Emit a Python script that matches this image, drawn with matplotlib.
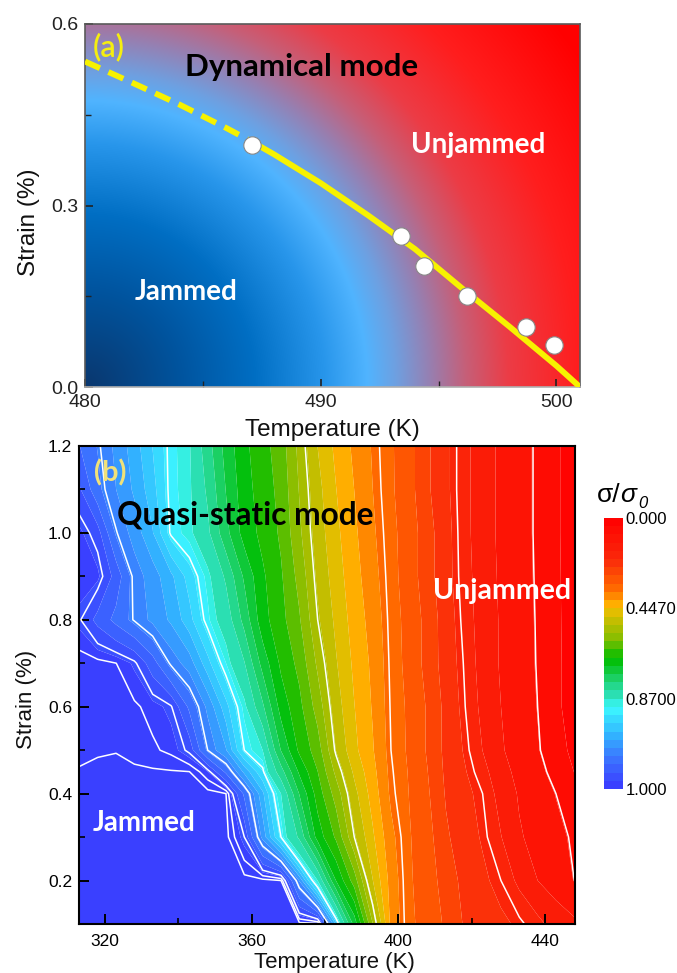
import numpy as np
import matplotlib
matplotlib.use("Agg")
import matplotlib.pyplot as plt
from matplotlib.colors import LinearSegmentedColormap, ListedColormap, BoundaryNorm

# ---------------- Panel (a) data ----------------
temp_points_a = [487.1, 493.4, 494.4, 496.2, 498.7, 499.9]
strain_points_a = [0.40, 0.25, 0.20, 0.15, 0.10, 0.07]
fit_solid_T = [487.1, 488.0, 490.0, 492.0, 494.0, 496.0, 498.0, 500.0, 501.0]
fit_solid_S = [0.405, 0.385, 0.337, 0.284, 0.228, 0.163, 0.100, 0.035, 0.0]
fit_dash_T = [480.0, 482.0, 484.0, 486.0, 487.1]
fit_dash_S = [0.538, 0.503, 0.467, 0.428, 0.405]

# ---------------- Panel (b) data ----------------
temps_b = [313, 318, 323, 328, 333, 338, 343, 348, 353, 358, 363, 368, 373, 378,
           383, 388, 393, 398, 403, 408, 413, 418, 423, 428, 433, 438, 443, 448]
strains_b = [0.1, 0.2, 0.3, 0.4, 0.45, 0.5, 0.6, 0.7, 0.8, 0.9, 1.0, 1.1, 1.2]
sigma_s010 = [1, 1, 1, 1, 1, 1, 1, 1, 1, 1, 1, 1, 1, 1,
              .915, .74, .564, .396, .333, .309, .278, .24, .226, .211, .197, .173, .147, .13]
sigma_s020 = [1, 1, 1, 1, 1, 1, 1, 1, 1, 1, 1, .998, .94, .87,
              .716, .62, .487, .39, .33, .305, .266, .232, .211, .19, .153, .122, .101, .08]
sigma_s030 = [1, 1, 1, 1, 1, 1, 1, 1, 1, .985, .937, .89, .825, .70,
              .633, .53, .454, .377, .328, .30, .25, .222, .199, .164, .126, .109, .091, .075]
sigma_s040 = [1, 1, 1, 1, 1, 1, 1, 1, .998, .962, .92, .87, .753, .66,
              .584, .498, .43, .358, .324, .29, .24, .215, .19, .147, .118, .099, .08, .05]
sigma_s045 = [.9985, .999, .9992, .999, .9988, .9985, .9982, .989, .962, .926, .895, .81, .71, .64,
              .553, .478, .42, .354, .322, .285, .236, .207, .176, .136, .111, .091, .069, .04]
sigma_s050 = [.9965, .9975, .9978, .9962, .994, .9915, .983, .95, .93, .89, .87, .753, .67, .62,
              .523, .457, .41, .35, .319, .28, .233, .20, .162, .126, .105, .084, .058, .03]
sigma_s060 = [.9965, .996, .9955, .994, .991, .986, .962, .938, .91, .878, .80, .70, .65, .584,
              .504, .448, .403, .347, .318, .28, .232, .192, .153, .122, .101, .08, .05, .02]
sigma_s070 = [.996, .995, .9931, .987, .97, .948, .935, .91, .882, .834, .74, .67, .628, .555,
              .489, .439, .398, .344, .313, .27, .225, .188, .147, .118, .098, .078, .05, .02]
sigma_s080 = [.986, .973, .961, .949, .938, .927, .91, .885, .855, .78, .692, .652, .605, .53,
              .477, .43, .39, .341, .312, .27, .223, .182, .145, .118, .098, .077, .049, .02]
sigma_s090 = [.992, .99, .972, .947, .935, .92, .90, .878, .825, .748, .684, .644, .588, .516,
              .466, .422, .38, .338, .306, .26, .217, .178, .142, .116, .096, .076, .048, .02]
sigma_s100 = [.99, .981, .951, .936, .918, .888, .877, .84, .767, .70, .667, .633, .57, .505,
              .457, .414, .372, .335, .306, .26, .216, .176, .138, .115, .095, .075, .047, .02]
sigma_s110 = [.978, .956, .941, .927, .91, .886, .875, .825, .753, .693, .66, .627, .56, .498,
              .448, .406, .366, .331, .30, .25, .211, .175, .138, .115, .095, .075, .047, .02]
sigma_s120 = [.965, .952, .938, .923, .905, .886, .873, .81, .74, .687, .653, .62, .551, .485,
              .438, .398, .362, .33, .30, .25, .211, .175, .138, .115, .095, .075, .047, .02]
sigma_rows = [sigma_s010, sigma_s020, sigma_s030, sigma_s040, sigma_s045, sigma_s050,
              sigma_s060, sigma_s070, sigma_s080, sigma_s090, sigma_s100, sigma_s110,
              sigma_s120]
white_line_levels = [0.08, 0.19, 0.35, 0.53, 0.89, 0.95, 0.985, 0.993, 0.998]
cbar_ticks = [0.0, 0.447, 0.87, 1.0]
cbar_ticklabels = ["0.000", "0.4470", "0.8700", "1.000"]

# ---------------- figure ----------------
plt.rcParams['font.family'] = ['Liberation Sans', 'DejaVu Sans']
fig = plt.figure(figsize=(6.77, 9.73), dpi=100)

# ===== Panel (a) =====
axA = fig.add_axes([85/677, 1-387/973, 495/677, 363/973])
xlimA = (480, 501.0)
ylimA = (0.0, 0.6)
nx, ny = 400, 300
xf = np.linspace(0, 1, nx)
yf = np.linspace(0, 1, ny)
XF, YF = np.meshgrid(xf, yf)
R = np.sqrt((XF/0.571)**2 + (YF/0.79)**2)
r_anchor = [0, 0.35, 0.6, 0.85, 1.0, 1.1, 1.22, 1.35, 1.5, 1.75, 2.1]
c_anchor = np.array([(10, 55, 110), (0, 85, 160), (0, 110, 195), (40, 150, 235),
                     (80, 180, 255), (110, 160, 225), (150, 128, 178), (198, 95, 120),
                     (236, 60, 70), (255, 30, 30), (255, 0, 0)]) / 255.0
img = np.dstack([np.interp(R, r_anchor, c_anchor[:, k]) for k in range(3)])
axA.imshow(img, extent=[xlimA[0], xlimA[1], ylimA[0], ylimA[1]], origin='lower',
           aspect='auto', zorder=0, interpolation='bilinear')
yellow = '#F7F200'
axA.plot(fit_dash_T, fit_dash_S, color=yellow, lw=4.2, ls=(0, (2.8, 1.6)), zorder=3,
         solid_capstyle='butt', dash_capstyle='butt')
axA.plot(fit_solid_T, fit_solid_S, color=yellow, lw=4.2, zorder=3, solid_capstyle='butt')
axA.plot(temp_points_a, strain_points_a, 'o', ms=12.5, mfc='white', mec='#888888',
         mew=0.8, zorder=4)
axA.set_xlim(*xlimA)
axA.set_ylim(*ylimA)
axA.set_xticks([480, 490, 500])
axA.set_xticks([485, 495], minor=True)
axA.set_yticks([0.0, 0.3, 0.6])
axA.set_yticks([0.15, 0.45], minor=True)
axA.set_yticklabels(['0.0', '0.3', '0.6'])
axA.tick_params(which='both', direction='in', labelsize=14, colors='#222222', pad=5)
axA.tick_params(which='major', length=6, width=1.2)
axA.tick_params(which='minor', length=4, width=1.0)
for sp in axA.spines.values():
    sp.set_color('#5a5a5a')
    sp.set_linewidth(1.2)
axA.spines['bottom'].set_color('#b0b0b0')
axA.text(0.5, -0.118, 'Temperature (K)', transform=axA.transAxes, ha='center', va='center',
         fontsize=17.5, color='#111111')
axA.text(-0.113, 0.455, 'Strain (%)', transform=axA.transAxes, ha='center', va='center',
         rotation=90, fontsize=17.5, color='#111111')
lab_font = ['Lato', 'DejaVu Sans']
axA.text(481.0, 0.562, '(a)', color='#F5EE10', fontsize=22, family=lab_font,
         fontweight='semibold', ha='center', va='center', zorder=5)
axA.text(489.2, 0.529, 'Dynamical mode', color='black', fontsize=22.5, family=lab_font,
         fontweight='bold', ha='center', va='center', zorder=5)
axA.text(496.7, 0.40, 'Unjammed', color='white', fontsize=20, family=lab_font,
         fontweight='bold', ha='center', va='center', zorder=5)
axA.text(484.3, 0.157, 'Jammed', color='white', fontsize=20, family=lab_font,
         fontweight='bold', ha='center', va='center', zorder=5)

# ===== Panel (b) =====
axB = fig.add_axes([79/677, 1-924/973, 496/677, 478/973])
T_grid, S_grid = np.meshgrid(temps_b, strains_b)
Z = np.array(sigma_rows, dtype=float)
levels_b = list(np.linspace(0, 0.447, 12)) + list(np.linspace(0.447, 0.87, 12)[1:]) + \
    list(np.linspace(0.87, 1.0, 12)[1:])
pos_anchor = [0.00, 0.15, 0.25, 0.30, 0.33, 0.36, 0.45, 0.52, 0.60, 0.66, 0.70, 0.80, 0.90, 1.00]
col_anchor = ['#FF0000', '#FA280A', '#FF6400', '#FF9600', '#FFBE00', '#D2BE00', '#82BE00',
              '#00BE00', '#1ED26E', '#2DE1BE', '#3CFAFF', '#32B4FF', '#3C6EFF', '#3A3AFF']
base = LinearSegmentedColormap.from_list('tec', list(zip(pos_anchor, col_anchor)))
nb = len(levels_b) - 1
cmap_b = ListedColormap([base((k + 0.5) / nb) for k in range(nb)])
norm_b = BoundaryNorm(levels_b, nb)
cf = axB.contourf(T_grid, S_grid, Z, levels=levels_b, cmap=cmap_b, norm=norm_b,
                  antialiased=True)
axB.contour(T_grid, S_grid, Z, levels=white_line_levels, colors='white', linewidths=1.1)
axB.set_xlim(312.9, 448.2)
axB.set_ylim(0.1, 1.2)
axB.set_xticks([320, 360, 400, 440])
axB.set_xticks([340, 380, 420], minor=True)
axB.set_yticks([0.2, 0.4, 0.6, 0.8, 1.0, 1.2])
axB.set_yticklabels(['0.2', '0.4', '0.6', '0.8', '1.0', '1.2'])
axB.set_yticks([0.3, 0.5, 0.7, 0.9, 1.1], minor=True)
axB.tick_params(which='both', direction='in', labelsize=12.5, colors='black')
axB.tick_params(axis='x', pad=7)
axB.tick_params(axis='y', pad=5)
axB.tick_params(which='major', length=7, width=1.4)
axB.tick_params(which='minor', length=4, width=1.2)
for sp in axB.spines.values():
    sp.set_color('black')
    sp.set_linewidth(1.5)
axB.text(0.516, -0.0795, 'Temperature (K)', transform=axB.transAxes, ha='center',
         va='center', fontsize=16, color='#111111')
axB.text(-0.105, 0.469, 'Strain (%)', transform=axB.transAxes, ha='center', va='center',
         rotation=90, fontsize=16, color='#111111')
axB.text(321.4, 1.138, '(b)', color='#F0E17A', fontsize=21, family=lab_font,
         fontweight='bold', ha='center', va='center')
axB.text(358.2, 1.041, 'Quasi-static mode', color='black', fontsize=22.8, family=lab_font,
         fontweight='bold', ha='center', va='center')
axB.text(428.3, 0.867, 'Unjammed', color='white', fontsize=20.5, family=lab_font,
         fontweight='bold', ha='center', va='center')
axB.text(330.6, 0.333, 'Jammed', color='white', fontsize=20, family=lab_font,
         fontweight='bold', ha='center', va='center')

# colorbar
cax = fig.add_axes([604/677, 1-789/973, 19/677, 271/973])
cb = fig.colorbar(cf, cax=cax, ticks=cbar_ticks, spacing='uniform')
cb.set_ticklabels(cbar_ticklabels)
cax.invert_yaxis()
cb.outline.set_visible(False)
cax.minorticks_off()
cax.tick_params(which='both', length=0, labelsize=12, pad=2)
fig.text(597/677, 1-495/973, 'σ/', ha='left', va='center', fontsize=19)
fig.text(620/677, 1-495/973, 'σ', ha='left', va='center', fontsize=19, style='italic')
fig.text(638/677, 1-503/973, '0', ha='left', va='center', fontsize=12, style='italic')

fig.savefig('out.png', dpi=100)
